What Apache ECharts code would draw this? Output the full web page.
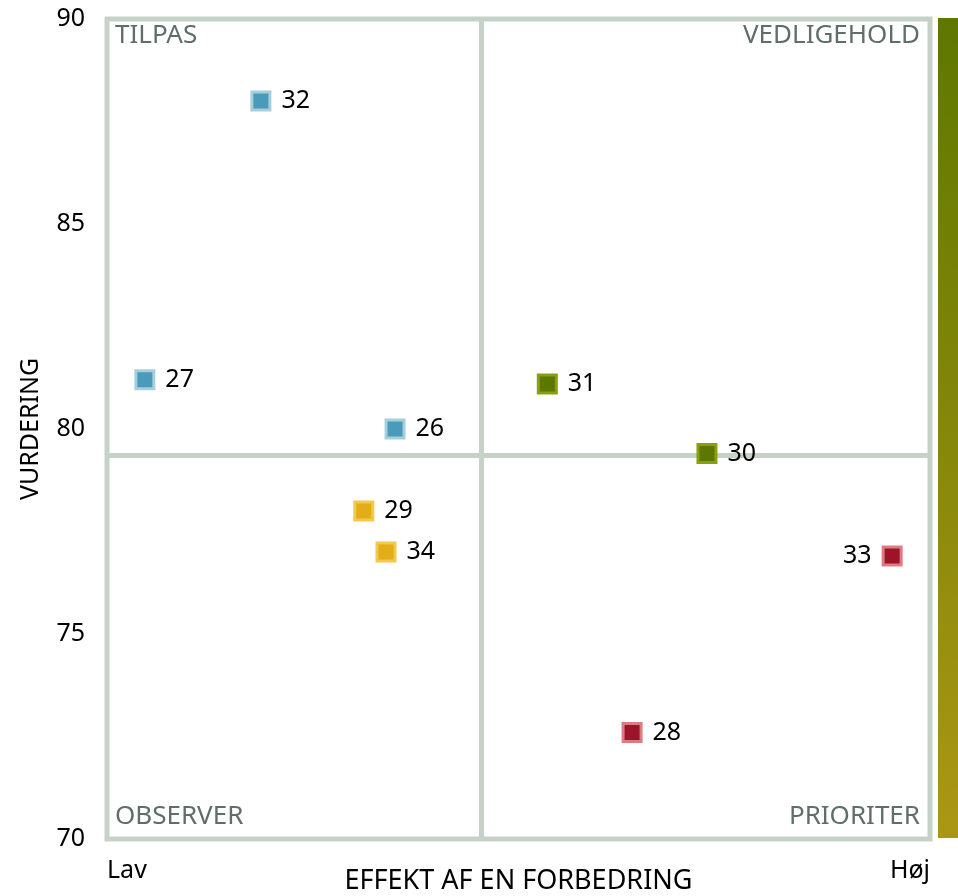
<!DOCTYPE html>
<html><head><meta charset="utf-8">
<script src="https://cdn.jsdelivr.net/npm/echarts@6/dist/echarts.min.js"></script>
<style>html,body{margin:0;padding:0;background:#fff}#c{width:958px;height:896px}</style>
</head><body><div id="c"></div>
<script>
// Data
const ids    = ['32', '27', '26', '31', '30', '29', '34', '33', '28'];
const effekt = [18.7, 4.6, 35.0, 53.5, 72.9, 31.2, 33.9, 95.4, 63.8];
const vurdering = [88.0, 81.2, 80.0, 81.1, 79.4, 78.0, 77.0, 76.9, 72.6];
const groups = ['tilpas','tilpas','tilpas','vedligehold','vedligehold','observer','observer','prioriter','prioriter'];
const yTicks = [70, 75, 80, 85, 90];
const xEnds = ['Lav', 'Høj'];
const quadrantNames = ['TILPAS', 'VEDLIGEHOLD', 'OBSERVER', 'PRIORITER'];

const styles = {
  tilpas:      {color:'#4a9aba', borderColor:'#a6cfdc'},
  vedligehold: {color:'#5c7800', borderColor:'#88a010'},
  observer:    {color:'#e2ad16', borderColor:'#f3c84e'},
  prioriter:   {color:'#9c1428', borderColor:'#df7a82'}
};
const meanX = effekt.reduce((a,b)=>a+b,0)/effekt.length;
const meanY = vurdering.reduce((a,b)=>a+b,0)/vurdering.length;
const gridLine = '#c6d1c8';
const FONT = 'Noto Sans';
const FS = 25;

const series = Object.keys(styles).map((g) => ({
  type:'scatter',
  name:g,
  symbol:'rect',
  symbolSize:18,
  itemStyle:{color:styles[g].color, borderColor:styles[g].borderColor, borderWidth:3, opacity:1},
  emphasis:{disabled:true},
  label:{show:true, formatter:p=>p.value[2], position:'right', distance:10,
         color:'#000', fontSize:FS, fontFamily:FONT},
  data: ids.map((id,i)=>({id,i})).filter(o=>groups[o.i]===g).map(o=>{
    const d = {value:[effekt[o.i], vurdering[o.i], o.id]};
    if (o.id === '33') d.label = {position:'left'};
    return d;
  }),
  z: 5
}));
series.push({
  type:'scatter', data:[], silent:true,
  markLine:{silent:true, symbol:'none', label:{show:false},
    lineStyle:{color:gridLine, width:5, type:'solid'},
    data:[{xAxis:meanX},{yAxis:meanY}]},
  z:2
});

const chart = echarts.init(document.getElementById('c'));
chart.setOption({
  animation:false,
  grid:{left:107, right:28, top:19, bottom:57, containLabel:false, outerBoundsMode:'none',
        show:true, borderColor:gridLine, borderWidth:5, backgroundColor:'transparent'},
  xAxis:{type:'value', min:0, max:100, interval:100,
    name:'EFFEKT AF EN FORBEDRING', nameLocation:'middle', nameGap:29, nameMoveOverlap:false,
    nameTextStyle:{color:'#000', fontSize:27, fontFamily:FONT},
    axisLine:{show:false}, axisTick:{show:false}, splitLine:{show:false},
    axisLabel:{color:'#000', fontSize:FS, fontFamily:FONT, margin:19,
      formatter:v=> v===0 ? xEnds[0] : (v===100 ? xEnds[1] : ''),
      alignMinLabel:'left', alignMaxLabel:'right'}},
  yAxis:{type:'value', min:yTicks[0], max:yTicks[yTicks.length-1], interval:5,
    name:'VURDERING', nameLocation:'middle', nameGap:64, nameRotate:90, nameMoveOverlap:false,
    nameTextStyle:{color:'#000', fontSize:FS, fontFamily:FONT},
    axisLine:{show:false}, axisTick:{show:false}, splitLine:{show:false},
    axisLabel:{color:'#000', fontSize:FS, fontFamily:FONT, margin:22}},
  graphic:[
    {type:'rect', left:938, top:18, shape:{width:20, height:820},
      style:{fill:new echarts.graphic.LinearGradient(0,0,0,1,[{offset:0,color:'#5e7700'},{offset:1,color:'#ab9714'}])}},
    {type:'text', left:115, top:23, style:{text:quadrantNames[0], fill:'#5f6e68', font:'26px "'+FONT+'"'}},
    {type:'text', right:38, top:23, style:{text:quadrantNames[1], fill:'#5f6e68', font:'26px "'+FONT+'"'}},
    {type:'text', left:115, top:804, style:{text:quadrantNames[2], fill:'#5f6e68', font:'26px "'+FONT+'"'}},
    {type:'text', right:38, top:804, style:{text:quadrantNames[3], fill:'#5f6e68', font:'26px "'+FONT+'"'}}
  ],
  series
});
</script></body></html>
